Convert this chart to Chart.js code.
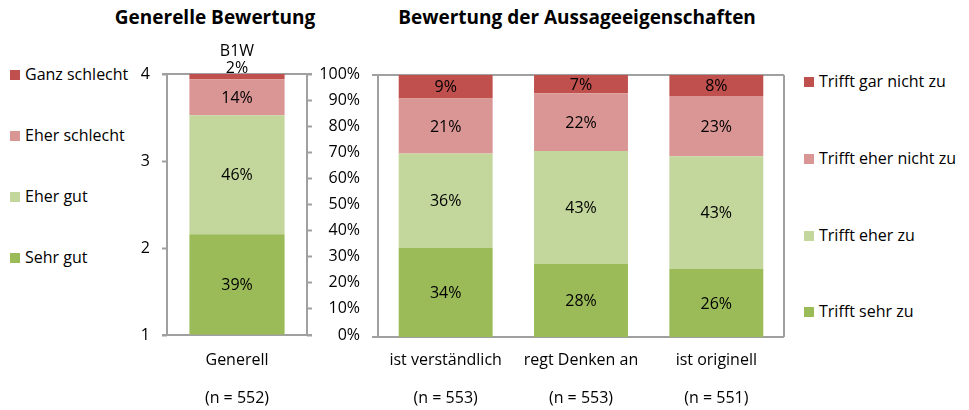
<!DOCTYPE html>
<html>
<head>
<meta charset="utf-8">
<script src="https://cdn.jsdelivr.net/npm/chart.js@4.4.1/dist/chart.umd.min.js"></script>
<style>
  body { margin: 0; background: #fff; }
  #wrap { position: relative; width: 969px; height: 410px; overflow: hidden; font-family: 'Open Sans', sans-serif; color: #000; }
  canvas { position: absolute; top: 0; }
  .title { position: absolute; top: 4px; font-weight: bold; font-size: 19px; white-space: nowrap; transform: translateX(-50%); }
  .legend { position: absolute; font-size: 16px; white-space: nowrap; }
  .legend .item { position: absolute; left: 0; height: 22px; line-height: 22px; transform: translateY(-50%); }
  .legend .box { display: inline-block; width: 10px; height: 10px; margin-right: 5px; vertical-align: 0px; }
</style>
</head>
<body>
<div id="wrap">
  <div class="title" style="left:215px">Generelle Bewertung</div>
  <div class="title" style="left:577px">Bewertung der Aussageeigenschaften</div>
  <div class="legend" id="legendLeft" style="left:10px; top:0"></div>
  <div class="legend" id="legendRight" style="left:804px; top:0"></div>
  <canvas id="chartLeft" width="380" height="410" style="left:0; width:380px; height:410px"></canvas>
  <canvas id="chartRight" width="609" height="410" style="left:360px; width:609px; height:410px"></canvas>
</div>
<script>
  // Generelle Bewertung (one bar)
  const genCategories = [["Generell", "(n = 552)"]];
  const genCaption = "B1W";
  const genLevels = ["Sehr gut", "Eher gut", "Eher schlecht", "Ganz schlecht"];
  const genSehrGut = [39];
  const genEherGut = [46];
  const genEherSchlecht = [14];
  const genGanzSchlecht = [2];
  const scoreTicks = [1, 2, 3, 4];

  // Bewertung der Aussageeigenschaften
  const itemCategories = [
    ["ist verständlich", "(n = 553)"],
    ["regt Denken an", "(n = 553)"],
    ["ist originell", "(n = 551)"],
  ];
  const itemLevels = ["Trifft sehr zu", "Trifft eher zu", "Trifft eher nicht zu", "Trifft gar nicht zu"];
  const triffSehr = [34, 28, 26];
  const triffEher = [36, 43, 43];
  const triffEherNicht = [21, 22, 23];
  const triffGarNicht = [9, 7, 8];

  const COLORS = ["#9BBB59", "#C3D69B", "#D99694", "#C0504D"];
  const AXIS = "#A0A0A0";
  const FONT = "'Open Sans', sans-serif";
  const TEXT = "#000";

  Chart.defaults.font.family = FONT;
  Chart.defaults.font.size = 16;
  Chart.defaults.color = TEXT;

  // turn counts into shares of 100 per category (100% stacked)
  const toShares = (series) =>
    series.map((s) => s.map((v, i) => {
      const total = series.reduce((sum, t) => sum + t[i], 0);
      return (v / total) * 100;
    }));

  const buildDatasets = (levels, series, barPct) => {
    const shares = toShares(series);
    return levels.map((name, k) => ({
      label: name,
      data: shares[k],
      raw: series[k],
      backgroundColor: COLORS[k],
      borderWidth: 0,
      barPercentage: barPct,
      categoryPercentage: 1,
      yAxisID: "pct",
    }));
  };

  // plot frame, drawn under the bars
  const framePlugin = {
    id: "frame",
    beforeDatasetsDraw(chart, args, opts) {
      const { ctx, chartArea: a } = chart;
      const l = Math.round(a.left), r = Math.round(a.right);
      const t = Math.round(a.top), b = Math.round(a.bottom);
      ctx.save();
      ctx.strokeStyle = AXIS;
      ctx.lineWidth = 2;
      ctx.beginPath();
      ctx.moveTo(l - opts.extLeft, t); ctx.lineTo(r + opts.extRight, t);
      ctx.moveTo(l - opts.extLeft, b); ctx.lineTo(r + opts.extRight, b);
      ctx.moveTo(l, t); ctx.lineTo(l, b);
      ctx.moveTo(r, t); ctx.lineTo(r, b);
      ctx.stroke();
      ctx.restore();
    },
  };

  // percentage labels in the segments
  const segLabelPlugin = {
    id: "segLabels",
    afterDatasetsDraw(chart, args, opts) {
      const ctx = chart.ctx;
      const last = chart.data.datasets.length - 1;
      ctx.save();
      ctx.font = `16px ${FONT}`;
      ctx.fillStyle = TEXT;
      ctx.textAlign = "center";
      ctx.textBaseline = "middle";
      chart.data.datasets.forEach((ds, di) => {
        chart.getDatasetMeta(di).data.forEach((bar, i) => {
          const txt = ds.raw[i] + "%";
          if (opts.outsideLast && di === last) {
            const top = Math.min(bar.y, bar.base);
            ctx.fillText(txt, bar.x, top - 6);
            if (opts.caption) ctx.fillText(opts.caption, bar.x, top - 23);
          } else {
            ctx.fillText(txt, bar.x, (bar.y + bar.base) / 2 + 1);
          }
        });
      });
      ctx.restore();
    },
  };

  const buildLegend = (el, levels, centers) => {
    levels.slice().reverse().forEach((name, j) => {
      const k = levels.length - 1 - j;
      const item = document.createElement("div");
      item.className = "item";
      item.style.top = centers[j] + "px";
      item.innerHTML = `<span class="box" style="background:${COLORS[k]}"></span>${name}`;
      el.appendChild(item);
    });
  };

  buildLegend(document.getElementById("legendLeft"), genLevels, [74, 135, 196, 257]);
  buildLegend(document.getElementById("legendRight"), itemLevels, [81, 158, 235, 311]);

  const xAxis = (padding, height) => ({
    type: "category",
    position: "bottom",
    grid: { display: false, drawTicks: false },
    border: { display: false },
    ticks: { padding: padding, font: { size: 16, lineHeight: 2.375 }, maxRotation: 0, autoSkip: false },
    afterFit: (s) => { s.height = height; },
  });

  // left chart: score axis 1..4 and percentage axis on the right
  new Chart(document.getElementById("chartLeft"), {
    type: "bar",
    data: {
      labels: genCategories,
      datasets: buildDatasets(genLevels, [genSehrGut, genEherGut, genEherSchlecht, genGanzSchlecht], 0.68),
    },
    plugins: [framePlugin, segLabelPlugin],
    options: {
      responsive: false,
      animation: false,
      events: [],
      layout: { padding: { left: 120, right: 20, top: 74, bottom: 0 } },
      plugins: {
        legend: { display: false },
        tooltip: { enabled: false },
        frame: { extLeft: 5, extRight: 5 },
        segLabels: { outsideLast: true, caption: genCaption },
      },
      scales: {
        x: { ...xAxis(6, 75), stacked: true },
        score: {
          type: "linear",
          position: "left",
          min: scoreTicks[0],
          max: scoreTicks[scoreTicks.length - 1],
          afterBuildTicks: (s) => { s.ticks = scoreTicks.map((v) => ({ value: v })); },
          grid: { drawOnChartArea: false, drawTicks: true, tickLength: 5, tickWidth: 2, color: AXIS },
          border: { display: false },
          ticks: { padding: 12, font: { size: 16 } },
          afterFit: (s) => { s.width = 47; },
        },
        pct: {
          type: "linear",
          position: "right",
          stacked: true,
          min: 0,
          max: 100,
          grid: { drawOnChartArea: false, drawTicks: true, tickLength: 5, tickWidth: 2, color: AXIS },
          border: { display: false },
          ticks: { stepSize: 10, crossAlign: "far", padding: 4, font: { size: 16 }, callback: (v) => v + "%" },
          afterFit: (s) => { s.width = 53; },
        },
      },
    },
  });

  // right chart: three statements
  new Chart(document.getElementById("chartRight"), {
    type: "bar",
    data: {
      labels: itemCategories,
      datasets: buildDatasets(itemLevels, [triffSehr, triffEher, triffEherNicht, triffGarNicht], 0.694),
    },
    plugins: [framePlugin, segLabelPlugin],
    options: {
      responsive: false,
      animation: false,
      events: [],
      layout: { padding: { left: 18, right: 185, top: 75, bottom: 0 } },
      plugins: {
        legend: { display: false },
        tooltip: { enabled: false },
        frame: { extLeft: 6, extRight: 0 },
        segLabels: { outsideLast: false },
      },
      scales: {
        x: { ...xAxis(4, 73), stacked: true },
        pct: { type: "linear", display: false, stacked: true, min: 0, max: 100 },
      },
    },
  });
</script>
</body>
</html>
